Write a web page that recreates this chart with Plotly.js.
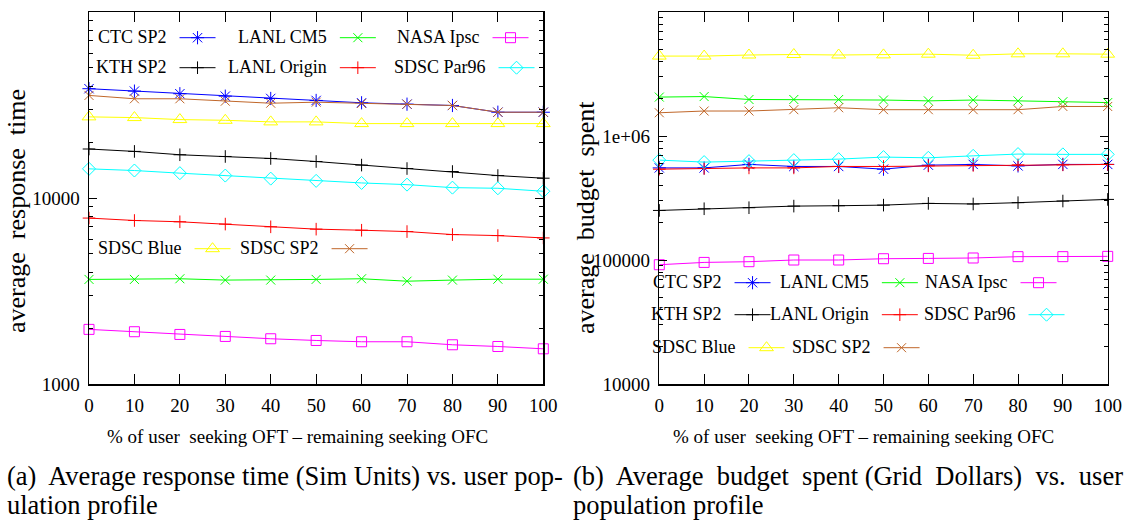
<!DOCTYPE html>
<html>
<head>
<meta charset="utf-8">
<script src="https://cdn.plot.ly/plotly-3.0.1.min.js"></script>
<style>
  html, body { margin: 0; padding: 0; background: #ffffff; }
  #chart { width: 1133px; height: 528px; }
</style>
</head>
<body>
<div id="chart"></div>
<script>
// Share of users seeking OFT (the rest seek OFC), in percent
const userShareOFT = [0, 10, 20, 30, 40, 50, 60, 70, 80, 90, 100];
const userShareTickText = ['0', '10', '20', '30', '40', '50', '60', '70', '80', '90', '100'];

// Average response time (Sim Units) per resource
const respCTCSP2     = [38700, 37550, 36360, 35280, 34290, 33450, 32500, 31940, 31430, 28920, 28920];
const respKTHSP2     = [18340, 17800, 17080, 16720, 16310, 15710, 15030, 14400, 13880, 13200, 12780];
const respLANLCM5    = [3650, 3650, 3680, 3620, 3620, 3650, 3680, 3570, 3620, 3660, 3660];
const respLANLOrigin = [7800, 7570, 7450, 7240, 7000, 6800, 6710, 6600, 6360, 6280, 6100];
const respNASAIpsc   = [1966, 1910, 1847, 1802, 1751, 1714, 1687, 1687, 1625, 1591, 1546];
const respSDSCPar96  = [14350, 14050, 13600, 13200, 12710, 12360, 12050, 11800, 11370, 11280, 10870];
const respSDSCBlue   = [27300, 27060, 26400, 26170, 25660, 25660, 25120, 25120, 25120, 25120, 25120];
const respSDSCSP2    = [35600, 34160, 34160, 33150, 32330, 32740, 32210, 31940, 31430, 28920, 28920];

// Average budget spent (Grid Dollars) per resource
const budgCTCSP2     = [553000, 553000, 590000, 568000, 568000, 540000, 582000, 590000, 574000, 590000, 590000];
const budgKTHSP2     = [251000, 259000, 264000, 272000, 274000, 277000, 286000, 283000, 290000, 299000, 308000];
const budgLANLCM5    = [2060000, 2080000, 1970000, 1970000, 1970000, 1950000, 1920000, 1950000, 1920000, 1890000, 1860000];
const budgLANLOrigin = [540000, 547000, 553000, 553000, 568000, 568000, 574000, 579000, 585000, 585000, 590000];
const budgNASAIpsc   = [91600, 95600, 96900, 100000, 100000, 102400, 103000, 103800, 106400, 106400, 107000];
const budgSDSCPar96  = [639000, 616000, 627000, 639000, 651000, 676000, 667000, 692000, 715000, 711000, 711000];
const budgSDSCBlue   = [4410000, 4410000, 4500000, 4540000, 4500000, 4510000, 4570000, 4480000, 4600000, 4600000, 4570000];
const budgSDSCSP2    = [1540000, 1590000, 1590000, 1630000, 1690000, 1630000, 1630000, 1630000, 1630000, 1730000, 1730000];

// Resource names, in drawing order
const machines = ['CTC SP2', 'KTH SP2', 'LANL CM5', 'LANL Origin', 'NASA Ipsc', 'SDSC Par96', 'SDSC Blue', 'SDSC SP2'];
const responseSeries = [respCTCSP2, respKTHSP2, respLANLCM5, respLANLOrigin, respNASAIpsc, respSDSCPar96, respSDSCBlue, respSDSCSP2];
const budgetSeries   = [budgCTCSP2, budgKTHSP2, budgLANLCM5, budgLANLOrigin, budgNASAIpsc, budgSDSCPar96, budgSDSCBlue, budgSDSCSP2];

// Log-axis labels
const respTickVals = [1000, 10000, 100000];
const respTickText = ['1000', '10000', ''];
const budgTickVals = [10000, 100000, 1000000, 10000000];
const budgTickText = ['10000', '100000', '1e+06', ''];

// Caption lines
const captionA = ['(a)\u00a0 Average response time (Sim Units) vs. user pop-', 'ulation profile'];
const captionB = ['(b)\u00a0 Average\u00a0 budget\u00a0 spent (Grid\u00a0 Dollars)\u00a0 vs.\u00a0 user', 'population profile'];

// ---- styling ----
const W = 1133, H = 528;
const SERIF = 'Liberation Serif, Times New Roman, Times, serif';
const styles = {
  'CTC SP2':     { color: '#0000ff', symbol: 'asterisk-open',    size: 11 },
  'KTH SP2':     { color: '#000000', symbol: 'cross-thin-open',  size: 9 },
  'LANL CM5':    { color: '#00ff00', symbol: 'x-thin-open',      size: 9 },
  'LANL Origin': { color: '#ff0000', symbol: 'cross-thin-open',  size: 9 },
  'NASA Ipsc':   { color: '#ff00ff', symbol: 'square-open',      size: 10 },
  'SDSC Par96':  { color: '#00ffff', symbol: 'diamond-open',     size: 10 },
  'SDSC Blue':   { color: '#ffff00', symbol: 'triangle-up-open', size: 12 },
  'SDSC SP2':    { color: '#c0672a', symbol: 'x-thin-open',      size: 9 }
};

// key placement (pixel centre of each key sample)
const keyPosLeft = {
  'CTC SP2': [198, 38], 'LANL CM5': [358, 38], 'NASA Ipsc': [511, 38],
  'KTH SP2': [198, 68], 'LANL Origin': [358, 68], 'SDSC Par96': [517, 68],
  'SDSC Blue': [213, 249], 'SDSC SP2': [350, 249]
};
const keyPosRight = {
  'CTC SP2': [753, 283], 'LANL CM5': [900, 283], 'NASA Ipsc': [1039, 283],
  'KTH SP2': [753, 315], 'LANL Origin': [900, 315], 'SDSC Par96': [1047, 315],
  'SDSC Blue': [767, 348], 'SDSC SP2': [902, 348]
};

const ITEM_W = 36;
const px = x => x / W;
const py = y => 1 - y / H;

function keyLegend(label, pos) {
  return {
    title: { text: label, side: 'left', font: { family: SERIF, size: 18, color: '#000' } },
    font: { family: SERIF, size: 18, color: '#000' },
    itemwidth: ITEM_W,
    x: px(pos[0] + ITEM_W / 2 + 10), xanchor: 'right',
    y: py(pos[1]), yanchor: 'middle',
    bgcolor: 'rgba(0,0,0,0)', borderwidth: 0,
    orientation: 'v'
  };
}

const traces = [];
const legends = {};
let legendCount = 0;
function addPanel(seriesList, xa, ya, keyPos) {
  machines.forEach((m, i) => {
    legendCount += 1;
    const lid = legendCount === 1 ? 'legend' : 'legend' + legendCount;
    legends[lid] = keyLegend(m, keyPos[m]);
    const st = styles[m];
    traces.push({
      type: 'scatter', mode: 'lines+markers',
      x: userShareOFT, y: seriesList[i],
      xaxis: xa, yaxis: ya,
      name: '', legend: lid, showlegend: true,
      cliponaxis: false,
      line: { color: st.color, width: 1 },
      marker: { symbol: st.symbol, size: st.size, color: st.color, line: { color: st.color, width: 1 } },
      hovertemplate: m + ': %{y}<extra></extra>'
    });
  });
}
addPanel(responseSeries, 'x', 'y', keyPosLeft);
addPanel(budgetSeries, 'x2', 'y2', keyPosRight);

function minorLogTicks(fromExp, toExp) {
  const v = [];
  for (let e = fromExp; e < toExp; e++) for (let k = 2; k <= 9; k++) v.push(k * Math.pow(10, e));
  return v;
}

const axisBase = {
  showline: true, linecolor: '#000', linewidth: 1.5, mirror: 'ticks',
  ticks: 'inside', tickcolor: '#000', tickwidth: 1,
  showgrid: false, zeroline: false,
  tickfont: { family: SERIF, size: 19, color: '#000' }
};
const xBase = Object.assign({}, axisBase, {
  range: [0, 100], tickmode: 'array', tickvals: userShareOFT, ticktext: userShareTickText,
  ticklen: 10, ticklabelstandoff: 4
});
const yBase = Object.assign({}, axisBase, {
  type: 'log', tickmode: 'array', ticklen: 8, ticklabelstandoff: 4,
  domain: [py(384), py(12)]
});

const annotations = [
  { text: 'average\u00a0 response\u00a0 time', x: px(16), y: py(211), textangle: -90, font: { family: SERIF, size: 26, color: '#000' } },
  { text: 'average\u00a0 budget\u00a0 spent', x: px(586), y: py(218), textangle: -90, font: { family: SERIF, size: 26, color: '#000' } },
  { text: '% of user\u00a0 seeking OFT \u2013 remaining seeking OFC', x: px(297.5), y: py(436), font: { family: SERIF, size: 19, color: '#000' } },
  { text: '% of user\u00a0 seeking OFT \u2013 remaining seeking OFC', x: px(863), y: py(436), font: { family: SERIF, size: 19, color: '#000' } },
  { text: captionA[0], x: px(5), y: py(476), xanchor: 'left', font: { family: SERIF, size: 26.5, color: '#000' } },
  { text: captionA[1], x: px(5), y: py(505), xanchor: 'left', font: { family: SERIF, size: 26.5, color: '#000' } },
  { text: captionB[0], x: px(571), y: py(476), xanchor: 'left', font: { family: SERIF, size: 26.5, color: '#000' } },
  { text: captionB[1], x: px(571), y: py(505), xanchor: 'left', font: { family: SERIF, size: 26.5, color: '#000' } }
].map(a => Object.assign({ xref: 'paper', yref: 'paper', showarrow: false, xanchor: 'center', yanchor: 'middle' }, a));

const layout = Object.assign({
  width: W, height: H,
  margin: { l: 0, r: 0, t: 0, b: 0 },
  paper_bgcolor: '#ffffff', plot_bgcolor: '#ffffff',
  showlegend: true,
  xaxis: Object.assign({}, xBase, { domain: [px(89), px(543.3)], anchor: 'y' }),
  yaxis: Object.assign({}, yBase, {
    range: [3, 5], tickvals: respTickVals, ticktext: respTickText, anchor: 'x',
    minor: { tickmode: 'array', tickvals: minorLogTicks(3, 5), ticks: 'inside', ticklen: 4, tickcolor: '#000', tickwidth: 1, showgrid: false }
  }),
  xaxis2: Object.assign({}, xBase, { domain: [px(659.3), px(1107.7)], anchor: 'y2' }),
  yaxis2: Object.assign({}, yBase, {
    range: [4, 7], tickvals: budgTickVals, ticktext: budgTickText, anchor: 'x2',
    minor: { tickmode: 'array', tickvals: minorLogTicks(4, 7), ticks: 'inside', ticklen: 4, tickcolor: '#000', tickwidth: 1, showgrid: false }
  }),
  annotations: annotations
}, legends);

Plotly.newPlot('chart', traces, layout, { displayModeBar: false, staticPlot: true });
</script>
</body>
</html>
